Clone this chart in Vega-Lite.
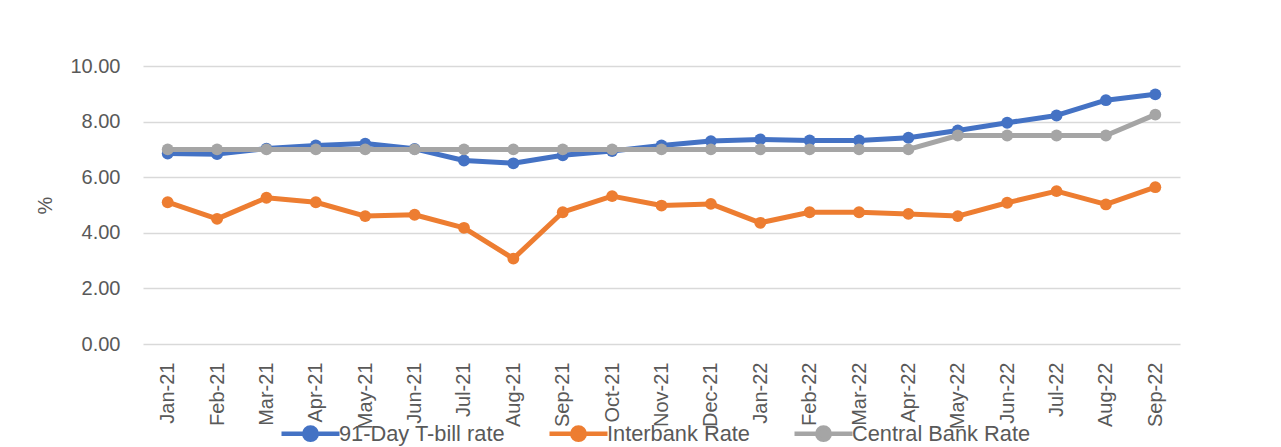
{
  "$schema": "https://vega.github.io/schema/vega-lite/v6.json",
  "width": 1037,
  "height": 278,
  "autosize": "none",
  "padding": {"left": 143, "top": 66, "right": 101, "bottom": 103},
  "background": "white",
  "config": {
    "font": "Liberation Sans",
    "view": {"stroke": null}
  },
  "data": {
    "values": [
      {"month": "Jan-21", "series": "91-Day T-bill rate", "value": 6.85},
      {"month": "Feb-21", "series": "91-Day T-bill rate", "value": 6.83},
      {"month": "Mar-21", "series": "91-Day T-bill rate", "value": 7.03},
      {"month": "Apr-21", "series": "91-Day T-bill rate", "value": 7.14},
      {"month": "May-21", "series": "91-Day T-bill rate", "value": 7.21},
      {"month": "Jun-21", "series": "91-Day T-bill rate", "value": 7.02},
      {"month": "Jul-21", "series": "91-Day T-bill rate", "value": 6.6},
      {"month": "Aug-21", "series": "91-Day T-bill rate", "value": 6.5},
      {"month": "Sep-21", "series": "91-Day T-bill rate", "value": 6.79},
      {"month": "Oct-21", "series": "91-Day T-bill rate", "value": 6.94},
      {"month": "Nov-21", "series": "91-Day T-bill rate", "value": 7.14},
      {"month": "Dec-21", "series": "91-Day T-bill rate", "value": 7.3},
      {"month": "Jan-22", "series": "91-Day T-bill rate", "value": 7.36},
      {"month": "Feb-22", "series": "91-Day T-bill rate", "value": 7.32},
      {"month": "Mar-22", "series": "91-Day T-bill rate", "value": 7.32},
      {"month": "Apr-22", "series": "91-Day T-bill rate", "value": 7.42},
      {"month": "May-22", "series": "91-Day T-bill rate", "value": 7.68},
      {"month": "Jun-22", "series": "91-Day T-bill rate", "value": 7.96},
      {"month": "Jul-22", "series": "91-Day T-bill rate", "value": 8.22},
      {"month": "Aug-22", "series": "91-Day T-bill rate", "value": 8.77},
      {"month": "Sep-22", "series": "91-Day T-bill rate", "value": 8.98},
      {"month": "Jan-21", "series": "Interbank Rate", "value": 5.1},
      {"month": "Feb-21", "series": "Interbank Rate", "value": 4.5},
      {"month": "Mar-21", "series": "Interbank Rate", "value": 5.26},
      {"month": "Apr-21", "series": "Interbank Rate", "value": 5.1},
      {"month": "May-21", "series": "Interbank Rate", "value": 4.6},
      {"month": "Jun-21", "series": "Interbank Rate", "value": 4.65},
      {"month": "Jul-21", "series": "Interbank Rate", "value": 4.18},
      {"month": "Aug-21", "series": "Interbank Rate", "value": 3.07},
      {"month": "Sep-21", "series": "Interbank Rate", "value": 4.74},
      {"month": "Oct-21", "series": "Interbank Rate", "value": 5.32},
      {"month": "Nov-21", "series": "Interbank Rate", "value": 4.98},
      {"month": "Dec-21", "series": "Interbank Rate", "value": 5.04},
      {"month": "Jan-22", "series": "Interbank Rate", "value": 4.36},
      {"month": "Feb-22", "series": "Interbank Rate", "value": 4.74},
      {"month": "Mar-22", "series": "Interbank Rate", "value": 4.74},
      {"month": "Apr-22", "series": "Interbank Rate", "value": 4.68},
      {"month": "May-22", "series": "Interbank Rate", "value": 4.6},
      {"month": "Jun-22", "series": "Interbank Rate", "value": 5.08},
      {"month": "Jul-22", "series": "Interbank Rate", "value": 5.5},
      {"month": "Aug-22", "series": "Interbank Rate", "value": 5.02},
      {"month": "Sep-22", "series": "Interbank Rate", "value": 5.64},
      {"month": "Jan-21", "series": "Central Bank Rate", "value": 7.0},
      {"month": "Feb-21", "series": "Central Bank Rate", "value": 7.0},
      {"month": "Mar-21", "series": "Central Bank Rate", "value": 7.0},
      {"month": "Apr-21", "series": "Central Bank Rate", "value": 7.0},
      {"month": "May-21", "series": "Central Bank Rate", "value": 7.0},
      {"month": "Jun-21", "series": "Central Bank Rate", "value": 7.0},
      {"month": "Jul-21", "series": "Central Bank Rate", "value": 7.0},
      {"month": "Aug-21", "series": "Central Bank Rate", "value": 7.0},
      {"month": "Sep-21", "series": "Central Bank Rate", "value": 7.0},
      {"month": "Oct-21", "series": "Central Bank Rate", "value": 7.0},
      {"month": "Nov-21", "series": "Central Bank Rate", "value": 7.0},
      {"month": "Dec-21", "series": "Central Bank Rate", "value": 7.0},
      {"month": "Jan-22", "series": "Central Bank Rate", "value": 7.0},
      {"month": "Feb-22", "series": "Central Bank Rate", "value": 7.0},
      {"month": "Mar-22", "series": "Central Bank Rate", "value": 7.0},
      {"month": "Apr-22", "series": "Central Bank Rate", "value": 7.0},
      {"month": "May-22", "series": "Central Bank Rate", "value": 7.5},
      {"month": "Jun-22", "series": "Central Bank Rate", "value": 7.5},
      {"month": "Jul-22", "series": "Central Bank Rate", "value": 7.5},
      {"month": "Aug-22", "series": "Central Bank Rate", "value": 7.5},
      {"month": "Sep-22", "series": "Central Bank Rate", "value": 8.25}
    ]
  },
  "encoding": {
    "x": {
      "field": "month",
      "type": "ordinal",
      "sort": null,
      "scale": {"type": "point", "padding": 0.5},
      "axis": {
        "title": null,
        "domain": false,
        "ticks": false,
        "labelAngle": -90,
        "labelFontSize": 20,
        "labelColor": "#595959",
        "labelPadding": 18
      }
    },
    "y": {
      "field": "value",
      "type": "quantitative",
      "scale": {"domain": [0, 10], "nice": false, "zero": true},
      "axis": {
        "values": [0, 2, 4, 6, 8, 10],
        "format": ".2f",
        "domain": false,
        "ticks": false,
        "grid": true,
        "gridColor": "#d9d9d9",
        "gridWidth": 1.5,
        "labelFontSize": 20,
        "labelColor": "#595959",
        "labelPadding": 23,
        "title": "%",
        "titleFontSize": 20,
        "titleFontWeight": "normal",
        "titleColor": "#595959",
        "titleX": -98,
        "titleY": 139,
        "titleBaseline": "middle"
      }
    },
    "color": {
      "field": "series",
      "type": "nominal",
      "scale": {
        "domain": ["91-Day T-bill rate", "Interbank Rate", "Central Bank Rate"],
        "range": ["#4472C4", "#ED7D31", "#A5A5A5"]
      },
      "legend": {
        "orient": "none",
        "legendX": 136,
        "legendY": 336,
        "direction": "horizontal",
        "title": null,
        "symbolType": "M-1,0H1M-0.215,0A0.215,0.215,0,1,1,0.215,0A0.215,0.215,0,1,1,-0.215,0Z",
        "symbolSize": 3364,
        "symbolStrokeWidth": 4.5,
        "labelFontSize": 21.8,
        "labelLimit": 0,
        "labelColor": "#595959",
        "labelOffset": -3,
        "columnPadding": 35
      }
    }
  },
  "layer": [
    {"transform": [{"filter": "datum.series === '91-Day T-bill rate'"}], "mark": {"type": "line", "strokeWidth": 5, "strokeJoin": "round", "strokeCap": "round"}},
    {"transform": [{"filter": "datum.series === '91-Day T-bill rate'"}], "mark": {"type": "point", "filled": true, "size": 140, "opacity": 1, "shape": "circle"}},
    {"transform": [{"filter": "datum.series === 'Interbank Rate'"}], "mark": {"type": "line", "strokeWidth": 5, "strokeJoin": "round", "strokeCap": "round"}},
    {"transform": [{"filter": "datum.series === 'Interbank Rate'"}], "mark": {"type": "point", "filled": true, "size": 140, "opacity": 1, "shape": "circle"}},
    {"transform": [{"filter": "datum.series === 'Central Bank Rate'"}], "mark": {"type": "line", "strokeWidth": 5, "strokeJoin": "round", "strokeCap": "round"}},
    {"transform": [{"filter": "datum.series === 'Central Bank Rate'"}], "mark": {"type": "point", "filled": true, "size": 140, "opacity": 1, "shape": "circle"}}
  ]
}
